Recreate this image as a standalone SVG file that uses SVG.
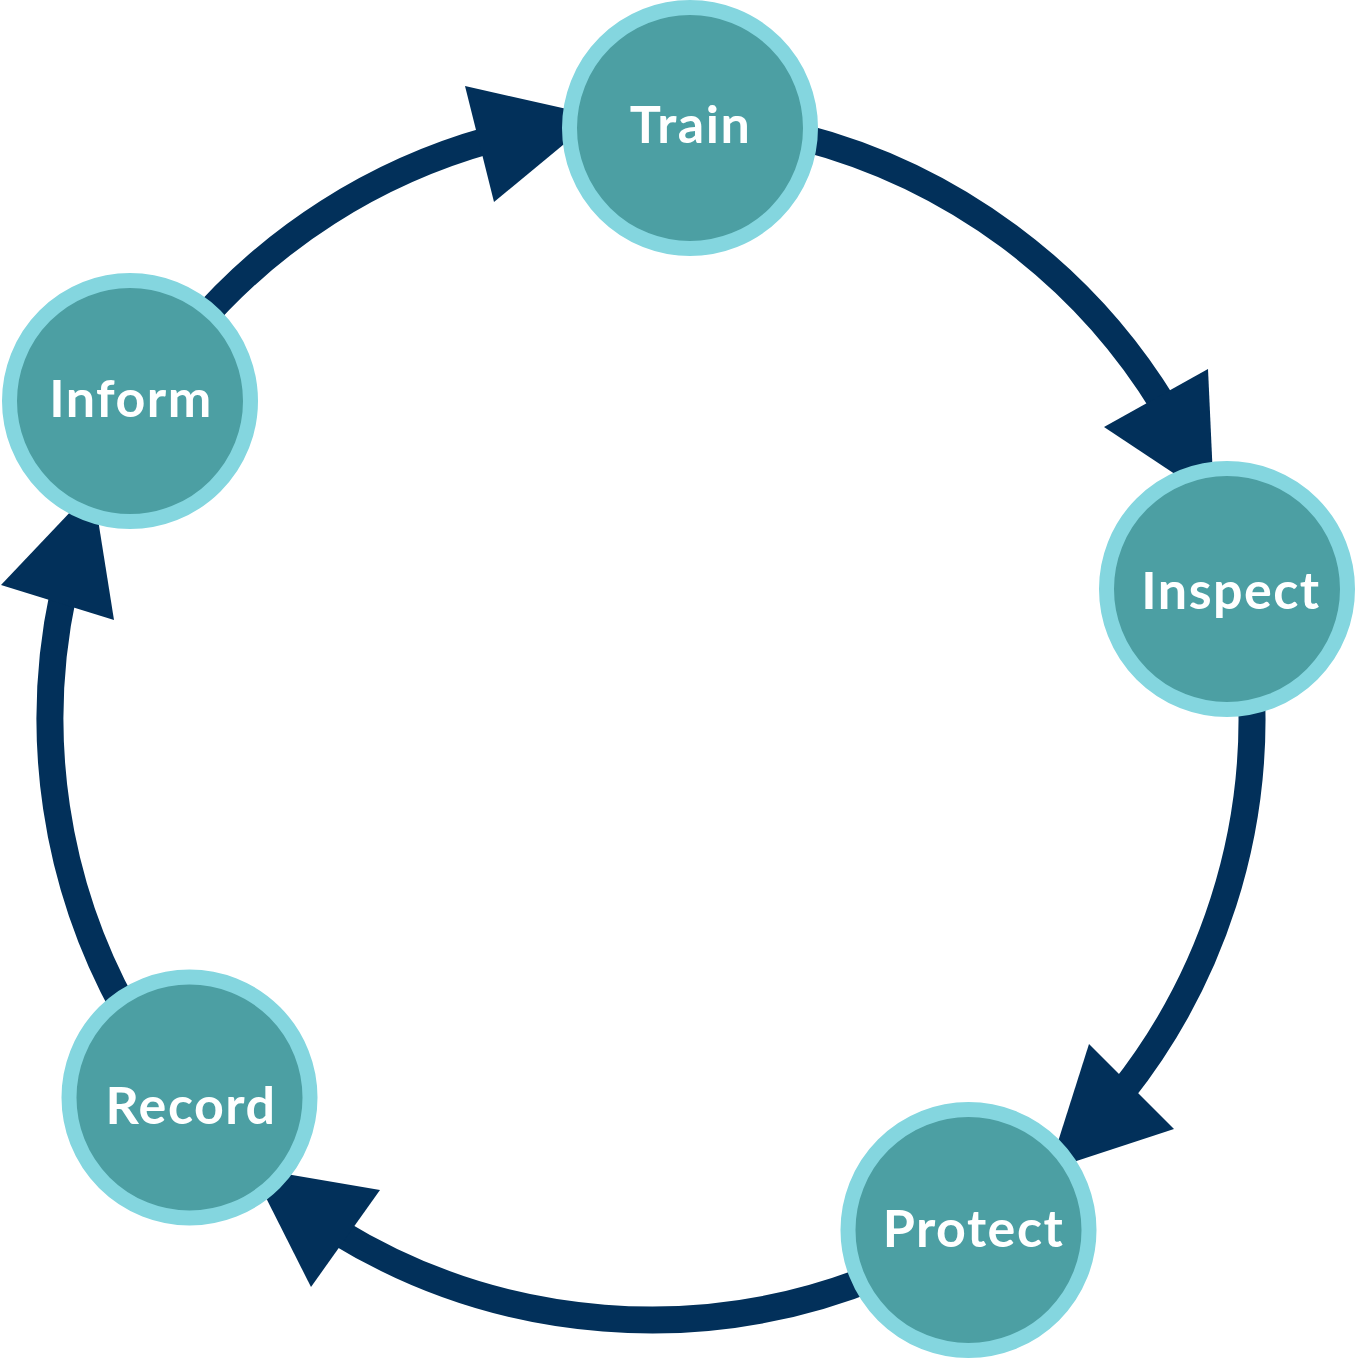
<svg xmlns="http://www.w3.org/2000/svg" width="1356" height="1359" viewBox="0 0 1356 1359">
  <style>
    .arc { fill: none; stroke: #02305A; stroke-width: 27; }
    .head { fill: #02305A; }
    .node circle { fill: #4C9FA3; stroke: #84D6DF; stroke-width: 15; }
    .node text { fill: #FFFFFF; font-family: "Lato", "Open Sans", sans-serif; font-weight: 700; font-size: 52px; letter-spacing: 1.5px; text-anchor: middle; }
  </style>
  <rect width="1356" height="1359" fill="#FFFFFF"/>
  <g id="connectors">
    <path class="arc" d="M 801.5 137.2 A 601 601 0 0 1 1164 405.9"/>
    <polygon class="head" points="1208,369 1214,500 1104,427"/>
    <path class="arc" d="M 1251.2 687.6 A 601 601 0 0 1 1121.3 1093.1"/>
    <polygon class="head" points="1089,1044 1049,1170 1174,1129"/>
    <path class="arc" d="M 881 1274.2 A 601 601 0 0 1 337 1231.4"/>
    <polygon class="head" points="380,1190 251,1168 311,1287"/>
    <path class="arc" d="M 125.4 1010.4 A 601 601 0 0 1 63.3 593"/>
    <polygon class="head" points="1,585 93,488 114,620"/>
    <path class="arc" d="M 194 328.7 A 601 601 0 0 1 489.4 140.1"/>
    <polygon class="head" points="465,86 598,116 494,202"/>
  </g>
  <g id="node-train" class="node">
    <circle cx="690" cy="128" r="120.5"/>
    <text x="690.5" y="143">Train</text>
  </g>
  <g id="node-inspect" class="node">
    <circle cx="1227" cy="589" r="120.5"/>
    <text x="1231" y="609">Inspect</text>
  </g>
  <g id="node-protect" class="node">
    <circle cx="968.5" cy="1230" r="120.5"/>
    <text x="973.5" y="1247">Protect</text>
  </g>
  <g id="node-record" class="node">
    <circle cx="189.5" cy="1097.5" r="120.5"/>
    <text x="191" y="1124">Record</text>
  </g>
  <g id="node-inform" class="node">
    <circle cx="130" cy="401" r="120.5"/>
    <text x="131" y="417">Inform</text>
  </g>
</svg>
